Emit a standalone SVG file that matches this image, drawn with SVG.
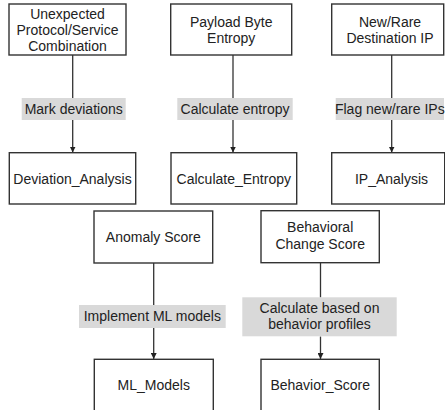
<svg xmlns="http://www.w3.org/2000/svg" width="445" height="410" viewBox="0 0 445 410">
  <defs>
    <marker id="arrow" viewBox="0 0 6 6" refX="6" refY="3" markerWidth="6" markerHeight="6" markerUnits="userSpaceOnUse" orient="auto">
      <path d="M0,0 L6,3 L0,6 z" fill="#222"/>
    </marker>
    <style>
      .box { fill: #ffffff; stroke: #333333; stroke-width: 1.4; }
      .tag { fill: #d9d9d9; stroke: none; }
      .txt { font-family: "Liberation Sans", Arial, sans-serif; font-size: 14px; fill: #222222; text-anchor: middle; }
      .edge { stroke: #333333; stroke-width: 1.3; fill: none; }
      .arr { marker-end: url(#arrow); }
    </style>
  </defs>

  <rect width="445" height="410" fill="#ffffff"/>

  <!-- connectors -->
  <g id="connectors">
    <line class="edge" x1="72.7" y1="55" x2="72.7" y2="98"/>
    <line class="edge arr" x1="72.7" y1="120" x2="72.7" y2="152.5"/>
    <line class="edge" x1="233" y1="55" x2="233" y2="98"/>
    <line class="edge arr" x1="233" y1="120" x2="233" y2="152.5"/>
    <line class="edge" x1="391.7" y1="55" x2="391.7" y2="98"/>
    <line class="edge arr" x1="391.7" y1="120" x2="391.7" y2="152.5"/>
    <line class="edge" x1="153.7" y1="263" x2="153.7" y2="305"/>
    <line class="edge arr" x1="153.7" y1="328" x2="153.7" y2="359"/>
    <line class="edge" x1="320.5" y1="263" x2="320.5" y2="297.5"/>
    <line class="edge arr" x1="320.5" y1="336.5" x2="320.5" y2="359"/>
  </g>

  <!-- edge labels -->
  <g id="label-mark">
    <rect class="tag" x="21.7" y="98" width="104" height="22"/>
    <text class="txt" x="73.7" y="114">Mark deviations</text>
  </g>
  <g id="label-entropy">
    <rect class="tag" x="177.3" y="98" width="115.4" height="22"/>
    <text class="txt" x="235" y="114">Calculate entropy</text>
  </g>
  <g id="label-flag">
    <rect class="tag" x="335.7" y="98" width="108.3" height="22"/>
    <text class="txt" x="389.8" y="114">Flag new/rare IPs</text>
  </g>
  <g id="label-ml">
    <rect class="tag" x="79" y="305" width="146.7" height="23"/>
    <text class="txt" x="152.3" y="321">Implement ML models</text>
  </g>
  <g id="label-behavior">
    <rect class="tag" x="242.3" y="297.3" width="154.4" height="39"/>
    <text class="txt" x="319.5" y="313.3">Calculate based on</text>
    <text class="txt" x="319.5" y="329.3">behavior profiles</text>
  </g>

  <!-- top row -->
  <g id="protocol-combination">
    <rect class="box" x="9" y="4" width="117" height="51"/>
    <text class="txt" x="67.5" y="19">Unexpected</text>
    <text class="txt" x="67.5" y="35">Protocol/Service</text>
    <text class="txt" x="67.5" y="51">Combination</text>
  </g>
  <g id="payload-entropy">
    <rect class="box" x="170.7" y="4" width="121" height="51"/>
    <text class="txt" x="231.2" y="27">Payload Byte</text>
    <text class="txt" x="231.2" y="43">Entropy</text>
  </g>
  <g id="rare-destination">
    <rect class="box" x="331.7" y="4" width="112" height="51"/>
    <text class="txt" x="390" y="27">New/Rare</text>
    <text class="txt" x="390" y="43">Destination IP</text>
  </g>

  <!-- second row -->
  <g id="deviation-analysis">
    <rect class="box" x="9.3" y="152.7" width="126.4" height="51.3"/>
    <text class="txt" x="72.5" y="183.5">Deviation_Analysis</text>
  </g>
  <g id="calculate-entropy">
    <rect class="box" x="171" y="152.7" width="125.7" height="51.3"/>
    <text class="txt" x="233.8" y="183.5">Calculate_Entropy</text>
  </g>
  <g id="ip-analysis">
    <rect class="box" x="331.7" y="152.7" width="113" height="51.3"/>
    <text class="txt" x="391.5" y="183.5">IP_Analysis</text>
  </g>

  <!-- score row -->
  <g id="anomaly-score">
    <rect class="box" x="94" y="211" width="118.7" height="52"/>
    <text class="txt" x="153.3" y="242">Anomaly Score</text>
  </g>
  <g id="behavioral-change-score">
    <rect class="box" x="261" y="210.7" width="118.3" height="52"/>
    <text class="txt" x="320.2" y="232.3">Behavioral</text>
    <text class="txt" x="320.2" y="249.3">Change Score</text>
  </g>

  <!-- bottom row -->
  <g id="ml-models">
    <rect class="box" x="94.3" y="359.3" width="119" height="60"/>
    <text class="txt" x="153.8" y="390">ML_Models</text>
  </g>
  <g id="behavior-score">
    <rect class="box" x="261" y="359.3" width="118.3" height="60"/>
    <text class="txt" x="320.2" y="390">Behavior_Score</text>
  </g>
</svg>
